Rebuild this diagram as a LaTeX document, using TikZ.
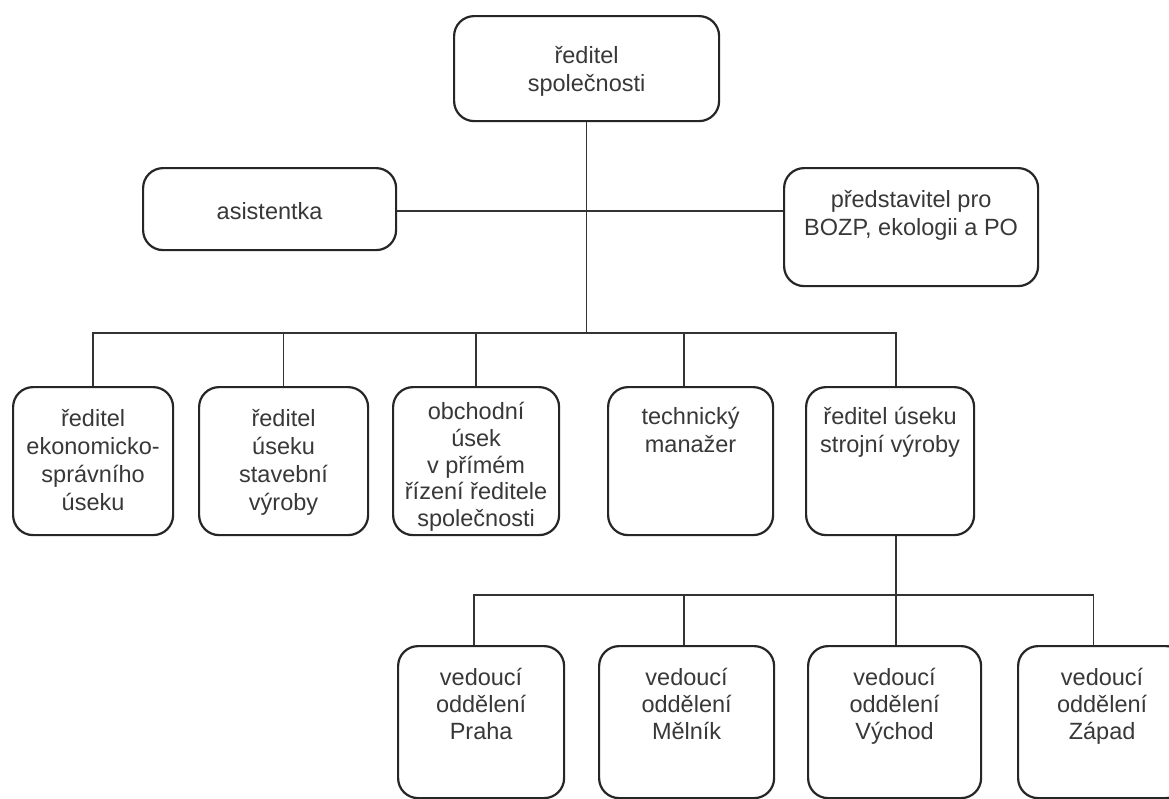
\documentclass[tikz,border=0pt]{standalone}
\usepackage{fontspec}
\setmainfont{Liberation Sans}
\begin{document}
\begin{tikzpicture}[x=1pt,y=-1pt,
  box/.style={draw=black!85, line width=2.2pt, rounded corners=20pt, anchor=north west, inner sep=0pt},
  txt/.style={align=center, inner sep=0pt, font=\fontsize{23.5}{28}\selectfont, text=black!78},
  toptxt/.style={txt, anchor=north},
  conn/.style={draw=black!80, line width=1.5pt}]
\useasboundingbox (0,0) rectangle (1169,798);
\fill[white] (0,0) rectangle (1169,798);

% top level
\node[box, minimum width=265pt, minimum height=105pt] (top) at (453,15) {};
\node[txt] (topt) at ([yshift=-3pt]top.center) {ředitel\\společnosti};

\node[box, minimum width=253pt, minimum height=82pt] (asis) at (142,167) {};
\node[txt] (asist) at ([yshift=-2pt]asis.center) {asistentka};

\node[box, minimum width=254pt, minimum height=118pt] (bozp) at (783,167) {};
\node[toptxt] (bozpt) at ([yshift=-23pt]bozp.north) {představitel pro\\BOZP, ekologii a PO};

% second row
\node[box, minimum width=160pt, minimum height=148pt] (b1) at (12,386) {};
\node[box, minimum width=169pt, minimum height=148pt] (b2) at (198,386) {};
\node[box, minimum width=166pt, minimum height=148pt] (b3) at (392,386) {};
\node[box, minimum width=165pt, minimum height=148pt] (b4) at (607,386) {};
\node[box, minimum width=168pt, minimum height=148pt] (b5) at (805,386) {};
\node[toptxt] (b1t) at ([yshift=-23pt]b1.north) {ředitel\\ekonomicko-\\správního\\úseku};
\node[toptxt] (b2t) at ([yshift=-23pt]b2.north) {ředitel\\úseku\\stavební\\výroby};
\node[toptxt, font=\fontsize{23.5}{26.8}\selectfont] (b3t) at ([yshift=-16pt]b3.north) {obchodní\\úsek\\v přímém\\řízení ředitele\\společnosti};
\node[toptxt] (b4t) at ([yshift=-21pt]b4.north) {technický\\manažer};
\node[toptxt] (b5t) at ([yshift=-21pt]b5.north) {ředitel úseku\\strojní výroby};

% third row
\node[box, minimum width=166pt, minimum height=152pt] (c1) at (397,645) {};
\node[box, minimum width=175pt, minimum height=152pt] (c2) at (598,645) {};
\node[box, minimum width=173pt, minimum height=152pt] (c3) at (807,645) {};
\node[box, minimum width=168pt, minimum height=152pt] (c4) at (1017,645) {};
\node[toptxt, font=\fontsize{23.5}{27}\selectfont] (c1t) at ([yshift=-23pt]c1.north) {vedoucí\\oddělení\\Praha};
\node[toptxt, font=\fontsize{23.5}{27}\selectfont] (c2t) at ([yshift=-23pt]c2.north) {vedoucí\\oddělení\\Mělník};
\node[toptxt, font=\fontsize{23.5}{27}\selectfont] (c3t) at ([yshift=-23pt]c3.north) {vedoucí\\oddělení\\Východ};
\node[toptxt, font=\fontsize{23.5}{27}\selectfont] (c4t) at ([yshift=-23pt]c4.north) {vedoucí\\oddělení\\Západ};

% connectors
\coordinate (bus1) at (0,333);
\coordinate (bus2) at (0,595);
\coordinate (hl) at (0,211);
\coordinate (d4) at ([xshift=-6.5pt]b4.north);
\coordinate (d5) at ([xshift=6pt]b5.north);
\coordinate (e5) at ([xshift=6pt]b5.south);
\coordinate (e1) at ([xshift=-7pt]c1.north);
\coordinate (e2) at ([xshift=-2.5pt]c2.north);
\coordinate (e3) at ([xshift=1.5pt]c3.north);
\coordinate (e4) at ([xshift=-8.5pt]c4.north);

\draw[conn] (asis.east |- hl) -- (bozp.west |- hl);
\draw[conn] (top.south) -- (top.south |- bus1);
\draw[conn] (b1.north) -- (b1.north |- bus1) -- (d5 |- bus1) -- (d5);
\draw[conn] (b2.north) -- (b2.north |- bus1);
\draw[conn] (b3.north) -- (b3.north |- bus1);
\draw[conn] (d4) -- (d4 |- bus1);

\draw[conn] (e5) -- (e5 |- bus2);
\draw[conn] (e1) -- (e1 |- bus2) -- (e4 |- bus2) -- (e4);
\draw[conn] (e2) -- (e2 |- bus2);
\draw[conn] (e3) -- (e3 |- bus2);
\end{tikzpicture}
\end{document}
